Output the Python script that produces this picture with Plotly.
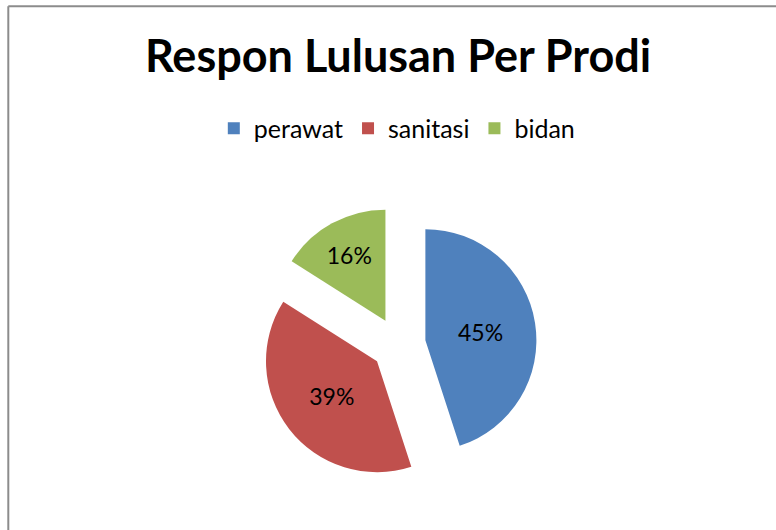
import plotly.graph_objects as go

categories = ["perawat", "sanitasi", "bidan"]
values = [45, 39, 16]
colors = ["#4F81BD", "#C0504D", "#9BBB59"]
pulls = [0.245, 0.245, 0.245]
title_text = "Respon Lulusan Per Prodi"

W, H = 776, 530
FONT = "Lato"

fig = go.Figure(go.Pie(
    labels=categories,
    values=values,
    marker=dict(colors=colors, line=dict(width=0)),
    pull=pulls,
    sort=False,
    direction="clockwise",
    rotation=0,
    textinfo="percent",
    texttemplate="%{percent:.0%}",
    textposition="inside",
    insidetextorientation="horizontal",
    textfont=dict(family=FONT, size=23, color="#000000"),
    domain=dict(x=[0.3354, 0.6917], y=[0.0892, 0.6108]),
    hoverinfo="label+percent",
))

fig.update_layout(
    width=W, height=H,
    margin=dict(l=0, r=0, t=0, b=0),
    paper_bgcolor="white",
    plot_bgcolor="white",
    title=dict(text="<b>" + title_text + "</b>", x=0.513, xanchor="center",
               y=1 - 56 / H, yanchor="middle", yref="container",
               font=dict(family=FONT, size=45, color="#000000")),
    legend=dict(orientation="h", x=0.512, xanchor="center",
                y=1 - 128.5 / H, yanchor="middle",
                font=dict(family=FONT, size=25, color="#000000"),
                traceorder="normal"),
    shapes=[
        dict(type="line", xref="paper", yref="paper",
             x0=8.3 / W, x1=8.3 / W, y0=1 - 6.2 / H, y1=-0.05,
             line=dict(color="#8c8c8c", width=2)),
        dict(type="line", xref="paper", yref="paper",
             x0=8.3 / W, x1=1.05, y0=1 - 6.2 / H, y1=1 - 6.2 / H,
             line=dict(color="#8c8c8c", width=2)),
    ],
)

fig.write_html("out.html",
               config={"displayModeBar": False},
               post_script="document.body.style.margin='0';document.body.style.overflow='hidden';")
